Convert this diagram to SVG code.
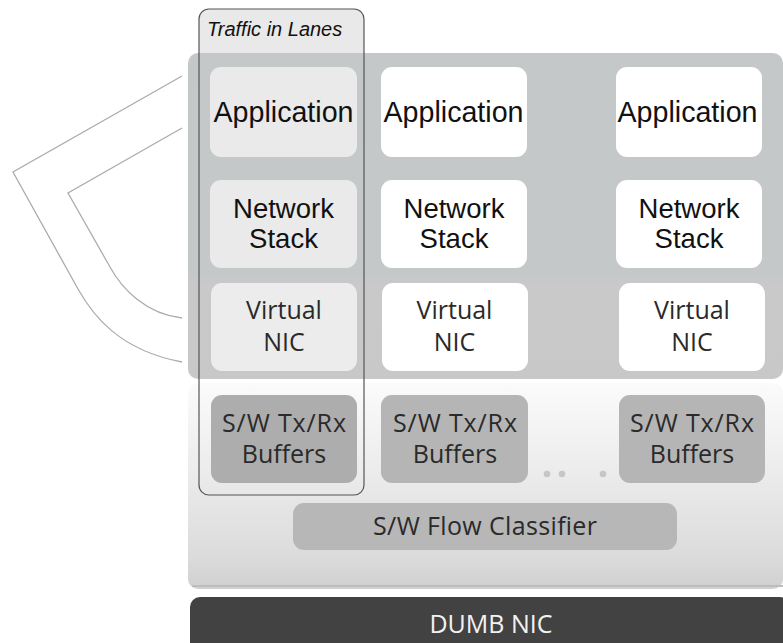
<svg xmlns="http://www.w3.org/2000/svg" width="783" height="643" viewBox="0 0 783 643">
  <defs>
    <linearGradient id="upperGrad" x1="0" y1="0" x2="0" y2="1">
      <stop offset="0" stop-color="#c4c8c9"/>
      <stop offset="0.68" stop-color="#c5c8c9"/>
      <stop offset="0.72" stop-color="#c9c9c9"/>
      <stop offset="1" stop-color="#c8c8c8"/>
    </linearGradient>
    <linearGradient id="lowerGrad" x1="0" y1="0" x2="0" y2="1">
      <stop offset="0" stop-color="#fbfbfb"/>
      <stop offset="0.45" stop-color="#ebebeb"/>
      <stop offset="0.85" stop-color="#dbdbdb"/>
      <stop offset="1" stop-color="#d0d0d0"/>
    </linearGradient>
    <style>
      .white { fill: #ffffff; }
      .lanebox { fill: #eaeaea; }
      .buf { fill: #b5b5b5; }
      .lanebuf { fill: #adadad; }
      .arial { font-family: "Liberation Sans", Arial, sans-serif; fill: #111111; text-anchor: middle; }
      .app { font-size: 30px; }
      .net { font-size: 27.5px; }
      .hum { font-family: "Open Sans", "Noto Sans", sans-serif; fill: #2a2a2a; text-anchor: middle; font-size: 25px; }
      .line { fill: none; stroke: #acacac; stroke-width: 1.3; }
    </style>
  </defs>

  <rect width="783" height="643" fill="#ffffff"/>

  <!-- decorative bracket lines -->
  <g id="connectors">
    <path class="line" d="M182,76 L13,172 L78,289 C92,314 118,350 182,362"/>
    <path class="line" d="M182,128 L68,193 L110,267 C122,289 146,314 182,318"/>
  </g>

  <!-- lane header fill (behind panels) -->
  <rect x="199" y="9" width="165" height="60" rx="10" fill="#e9e9e9"/>

  <!-- upper panel -->
  <g id="upper-panel">
    <rect x="188" y="53" width="595" height="326" rx="10" fill="url(#upperGrad)"/>
  </g>

  <!-- lower panel -->
  <g id="lower-panel">
    <rect x="188" y="383" width="595" height="206" rx="10" fill="url(#lowerGrad)"/>
    <rect x="192" y="585" width="591" height="2" fill="#bdbdbd"/>
  </g>

  <!-- column 1 (lane) -->
  <g id="app1">
    <rect class="lanebox" x="210" y="67" width="147" height="90" rx="11"/>
    <text class="arial app" x="283.5" y="122" textLength="140" lengthAdjust="spacingAndGlyphs">Application</text>
  </g>
  <g id="net1">
    <rect class="lanebox" x="210" y="180" width="147" height="88" rx="11"/>
    <text class="arial net" x="283.5" y="218">Network</text>
    <text class="arial net" x="283.5" y="248">Stack</text>
  </g>
  <g id="vnic1">
    <rect x="211" y="283" width="146" height="88" rx="11" fill="#ececec"/>
    <text class="hum" x="284" y="319">Virtual</text>
    <text class="hum" x="284" y="351">NIC</text>
  </g>
  <g id="buf1">
    <rect class="lanebuf" x="211" y="395" width="146" height="88" rx="11"/>
    <text class="hum" x="284" y="432" textLength="124" lengthAdjust="spacing">S/W Tx/Rx</text>
    <text class="hum" x="284" y="463">Buffers</text>
  </g>

  <!-- column 2 -->
  <g id="app2">
    <rect class="white" x="381" y="67" width="146" height="90" rx="11"/>
    <text class="arial app" x="453.5" y="122" textLength="140" lengthAdjust="spacingAndGlyphs">Application</text>
  </g>
  <g id="net2">
    <rect class="white" x="381" y="180" width="146" height="88" rx="11"/>
    <text class="arial net" x="454" y="218">Network</text>
    <text class="arial net" x="454" y="248">Stack</text>
  </g>
  <g id="vnic2">
    <rect class="white" x="382" y="283" width="146" height="88" rx="11"/>
    <text class="hum" x="454.5" y="319">Virtual</text>
    <text class="hum" x="454.5" y="351">NIC</text>
  </g>
  <g id="buf2">
    <rect class="buf" x="381" y="395" width="147" height="88" rx="11"/>
    <text class="hum" x="455" y="432" textLength="124" lengthAdjust="spacing">S/W Tx/Rx</text>
    <text class="hum" x="455" y="463">Buffers</text>
  </g>

  <!-- column 3 -->
  <g id="app3">
    <rect class="white" x="616" y="67" width="146" height="90" rx="11"/>
    <text class="arial app" x="687.5" y="122" textLength="140" lengthAdjust="spacingAndGlyphs">Application</text>
  </g>
  <g id="net3">
    <rect class="white" x="616" y="180" width="146" height="88" rx="11"/>
    <text class="arial net" x="689" y="218">Network</text>
    <text class="arial net" x="689" y="248">Stack</text>
  </g>
  <g id="vnic3">
    <rect class="white" x="619" y="283" width="146" height="88" rx="11"/>
    <text class="hum" x="692" y="319">Virtual</text>
    <text class="hum" x="692" y="351">NIC</text>
  </g>
  <g id="buf3">
    <rect class="buf" x="619" y="395" width="146" height="88" rx="11"/>
    <text class="hum" x="692" y="432" textLength="124" lengthAdjust="spacing">S/W Tx/Rx</text>
    <text class="hum" x="692" y="463">Buffers</text>
  </g>

  <!-- ellipsis dots -->
  <g id="dots" fill="#c6c6c6">
    <circle cx="547" cy="474" r="3.3"/>
    <circle cx="562" cy="474" r="3.3"/>
    <circle cx="603" cy="474" r="3.3"/>
  </g>

  <!-- flow classifier -->
  <g id="classifier">
    <rect x="293" y="503" width="384" height="47" rx="11" fill="#b7b7b7"/>
    <text class="hum" x="485" y="535" textLength="224" lengthAdjust="spacing">S/W Flow Classifier</text>
  </g>

  <!-- dumb NIC -->
  <g id="dumb-nic">
    <rect x="190" y="597" width="600" height="56" rx="10" fill="#424242"/>
    <text class="hum" x="491" y="633" style="fill:#f2f2f2">DUMB NIC</text>
  </g>

  <!-- lane outline -->
  <g id="lane">
    <rect x="199" y="9" width="165" height="486" rx="10" fill="none" stroke="#555555" stroke-width="1.2"/>
    <text x="207" y="36" font-family="'Liberation Sans', Arial, sans-serif" font-style="italic" font-size="20" fill="#111111">Traffic in Lanes</text>
  </g>
</svg>
